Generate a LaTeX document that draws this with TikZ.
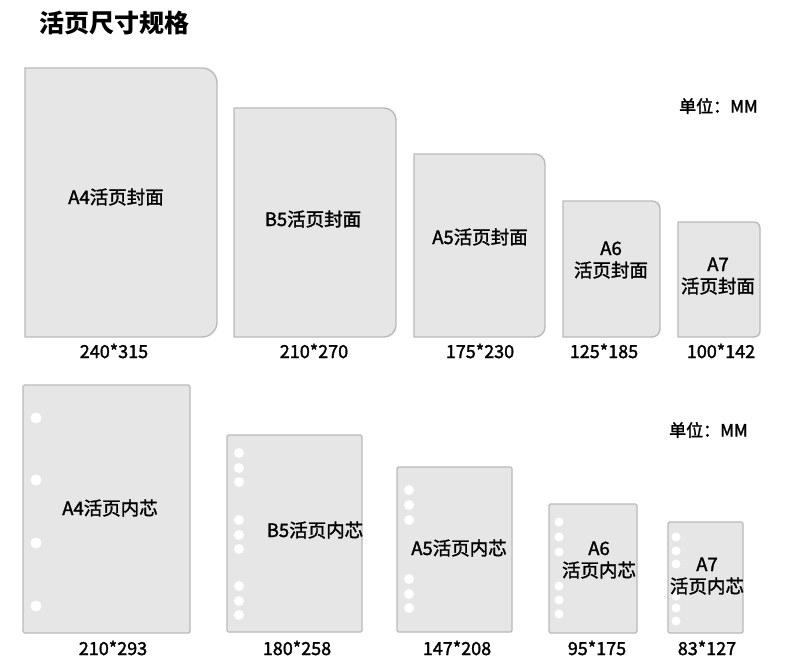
\documentclass[tikz,border=0pt]{standalone}
\usepackage{fontspec}
\newfontfamily\cjk{Noto Sans CJK SC}
\definecolor{pagefill}{HTML}{E6E6E6}
\definecolor{pageline}{HTML}{BABABA}
\newcommand{\medtxt}[1]{\special{pdf:literal direct 2 Tr 0.3 w}#1\special{pdf:literal direct 0 Tr}}
\newcommand{\coverpage}[5]{% x1,y1,x2,y2,r
  \draw[coverstyle] (#1,#2) -- ({#3-#5},#2) arc[start angle=-90,end angle=0,radius=#5]
    -- (#3,{#4-#5}) arc[start angle=0,end angle=90,radius=#5] -- (#1,#4) -- cycle;}
\newcommand{\innerpage}[4]{\draw[innerstyle] (#1,#2) rectangle (#3,#4);}
\newcommand{\holes}[3]{\foreach \hy in {#2} {\fill[white] (#1,\hy) circle[radius=#3];}}
\begin{document}
\begin{tikzpicture}[x=1pt,y=-1pt,
  coverstyle/.style={fill=pagefill,draw=pageline,line width=1.4pt},
  innerstyle/.style={fill=pagefill,draw=pageline,line width=1.4pt,rounded corners=1.5pt},
  lbl/.style={font=\cjk\fontsize{18.5}{22}\selectfont,align=center,inner sep=0pt},
  dim/.style={font=\cjk\fontsize{18}{22}\selectfont,inner sep=0pt},
  unit/.style={font=\cjk\fontsize{17}{20}\selectfont,inner sep=0pt,anchor=east}]
\useasboundingbox[fill=white] (0,0) rectangle (790,672);
\node[font=\cjk\bfseries\fontsize{25}{29}\selectfont,inner sep=0pt] (title) at (114,23) {活页尺寸规格};
% covers
\coverpage{25}{68}{217}{337}{15}
\coverpage{234}{108}{396}{337}{12}
\coverpage{414}{154}{545}{337}{10}
\coverpage{563}{201}{660}{337}{8}
\coverpage{678}{222}{760}{337}{6}
\node[lbl] (c4) at (116,197) {\medtxt{A4活页封面}};
\node[lbl] (cb5) at (313,219) {\medtxt{B5活页封面}};
\node[lbl] (c5) at (480,237) {\medtxt{A5活页封面}};
\node[lbl] (c6) at (611,260) {\medtxt{A6}\\\medtxt{活页封面}};
\node[lbl] (c7) at (718,276) {\medtxt{A7}\\\medtxt{活页封面}};
\node[dim] (d1) at (114,351) {\medtxt{240*315}};
\node[dim] (d2) at (314,351) {\medtxt{210*270}};
\node[dim] (d3) at (480,351) {\medtxt{175*230}};
\node[dim] (d4) at (604,351) {\medtxt{125*185}};
\node[dim] (d5) at (721,351) {\medtxt{100*142}};
\node[unit] (u1) at (758,106) {\medtxt{单位：MM}};
% inner pages
\innerpage{23}{385}{190}{633}
\holes{36}{418,480,543,606}{5.5}
\innerpage{227}{435}{362}{632}
\holes{239}{453,468,482,520,535,549,586,601,615}{5}
\innerpage{397}{467}{512}{632}
\holes{409}{490,505,520,579,594,608}{5}
\innerpage{549}{504}{637}{633}
\holes{559}{522,537,552,586,600,614}{4.5}
\innerpage{668}{522}{743}{633}
\holes{676}{537,551,564,596,608,621}{4.5}
\node[lbl] (i4) at (110,508) {\medtxt{A4活页内芯}};
\node[lbl] (ib5) at (315,530) {\medtxt{B5活页内芯}};
\node[lbl] (i5) at (459,548) {\medtxt{A5活页内芯}};
\node[lbl] (i6) at (599,560) {\medtxt{A6}\\\medtxt{活页内芯}};
\node[lbl] (i7) at (707,576) {\medtxt{A7}\\\medtxt{活页内芯}};
\node[dim] (e1) at (113,648) {\medtxt{210*293}};
\node[dim] (e2) at (297,648) {\medtxt{180*258}};
\node[dim] (e3) at (457,648) {\medtxt{147*208}};
\node[dim] (e4) at (597,648) {\medtxt{95*175}};
\node[dim] (e5) at (707,648) {\medtxt{83*127}};
\node[unit] (u2) at (748,430) {\medtxt{单位：MM}};
\end{tikzpicture}
\end{document}
